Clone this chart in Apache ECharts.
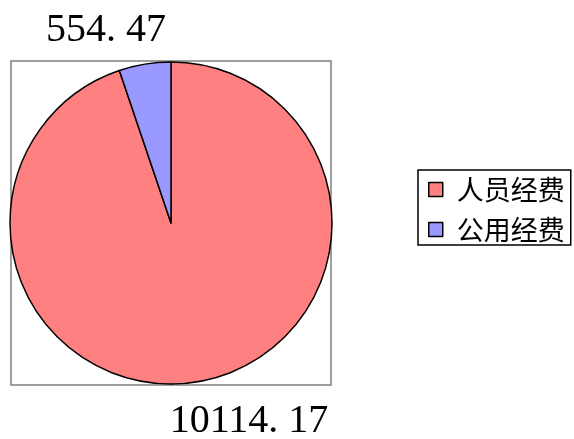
<!DOCTYPE html>
<html><head><meta charset="utf-8">
<script src="https://cdn.jsdelivr.net/npm/echarts@6/dist/echarts.min.js"></script>
<style>html,body{margin:0;padding:0;background:#fff}#c{width:574px;height:439px}</style>
</head><body><div id="c"></div>
<script>
const categories = ['人员经费', '公用经费'];
const values = [10114.17, 554.47];
const colors = ['#FF8080', '#9999FF'];
const labelSpots = [[249, 421], [106, 30]];

const chart = echarts.init(document.getElementById('c'), null, {renderer: 'canvas'});
chart.setOption({
  animation: false,
  backgroundColor: '#fff',
  graphic: [{
    type: 'rect', z: -1,
    shape: {x: 11, y: 61, width: 320, height: 324},
    style: {fill: 'none', stroke: '#808080', lineWidth: 1.5}
  }],
  legend: {
    orient: 'vertical',
    left: 418, top: 170,
    padding: [6, 6, 2, 10],
    itemGap: 13,
    itemWidth: 14, itemHeight: 14,
    icon: 'rect',
    borderColor: '#000', borderWidth: 1.5,
    itemStyle: {borderColor: '#000', borderWidth: 1.5},
    textStyle: {fontFamily: 'Noto Sans CJK SC', fontSize: 27, color: '#000', padding: [0, 0, 0, 9]},
    data: categories
  },
  series: [{
    type: 'pie',
    center: [171, 223],
    radius: 161,
    startAngle: 90,
    clockwise: true,
    itemStyle: {borderColor: '#000', borderWidth: 1.5},
    label: {
      show: true, position: 'outside', overflow: 'none', width: 300,
      fontFamily: 'Liberation Serif', fontSize: 40, color: '#000',
      formatter: p => p.value.toFixed(2).replace('.', '. ')
    },
    labelLine: {show: false},
    labelLayout: p => ({x: labelSpots[p.dataIndex][0], y: labelSpots[p.dataIndex][1], align: 'center', verticalAlign: 'middle'}),
    emphasis: {disabled: true},
    data: categories.map((n, i) => ({name: n, value: values[i], itemStyle: {color: colors[i]}}))
  }]
});
</script></body></html>
